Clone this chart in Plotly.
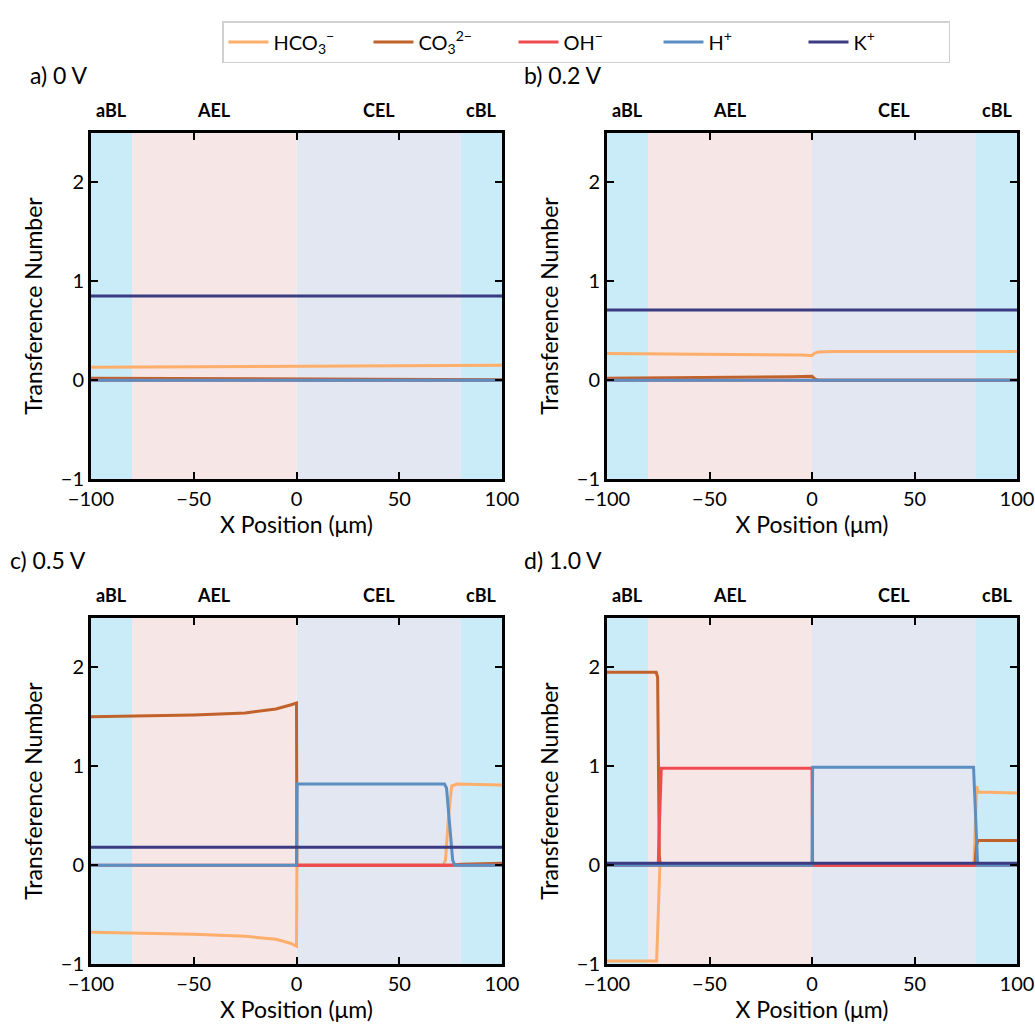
import plotly.graph_objects as go

# ---------------- data ----------------
species = ["HCO<sub>3</sub><sup>−</sup>", "CO<sub>3</sub><sup>2−</sup>", "OH<sup>−</sup>", "H<sup>+</sup>", "K<sup>+</sup>"]
colors = ["#fdae6b", "#c0622a", "#ef4b50", "#5b8fc2", "#3a3b80"]

panel_titles = ["a) 0 V", "b) 0.2 V", "c) 0.5 V", "d) 1.0 V"]
region_names = ["aBL", "AEL", "CEL", "cBL"]
region_centers = [-90, -40, 40, 90]
region_edges = [-100, -80, 0, 80, 100]
region_colors = ["#c9ecf8", "#f6e6e6", "#e3e7f2", "#c9ecf8"]

x_ticks = [-100, -50, 0, 50, 100]
y_ticks = [-1, 0, 1, 2]

# Panel a (0 V)
a_x = [-100, -50, 0, 50, 100]
a_hco3 = [0.13, 0.135, 0.14, 0.145, 0.15]
a_co3 = [0.02, 0.015, 0.01, 0.007, 0.005]
a_oh = [0.0, 0.0, 0.0, 0.0, 0.0]
a_h = [0.0, 0.0, 0.0, 0.0, 0.0]
a_k = [0.85, 0.85, 0.85, 0.85, 0.85]

# Panel b (0.2 V)
b_hco3_x = [-100, -50, -20, -5, -1, 0, 1, 3, 10, 100]
b_hco3 = [0.27, 0.265, 0.26, 0.255, 0.25, 0.25, 0.27, 0.285, 0.29, 0.29]
b_co3_x = [-100, -50, -10, 0, 1.5, 3, 100]
b_co3 = [0.02, 0.025, 0.035, 0.04, 0.01, 0.0, 0.0]
b_x = [-100, 100]
b_oh = [0.0, 0.0]
b_h = [0.0, 0.0]
b_k = [0.71, 0.71]

# Panel c (0.5 V)
c_hco3_x = [-100, -75, -50, -25, -10, -3, 0, 0.2, 71.5, 72.5, 74, 75.5, 78, 100]
c_hco3 = [-0.68, -0.69, -0.70, -0.72, -0.75, -0.79, -0.82, 0.0, 0.0, 0.05, 0.5, 0.8, 0.82, 0.81]
c_co3_x = [-100, -75, -50, -25, -10, -3, 0, 0.2, 75, 80, 100]
c_co3 = [1.50, 1.51, 1.52, 1.54, 1.58, 1.62, 1.64, 0.0, 0.0, 0.01, 0.02]
c_oh_x = [-100, 100]
c_oh = [0.0, 0.0]
c_h_x = [-100, 0, 0.3, 72, 73, 74.5, 76, 77, 100]
c_h = [0.0, 0.0, 0.82, 0.82, 0.78, 0.4, 0.05, 0.0, 0.0]
c_k_x = [-100, 100]
c_k = [0.18, 0.18]

# Panel d (1.0 V)
d_hco3_x = [-100, -75.8, -75, -74.2, 79, 79.5, 80.3, 81, 100]
d_hco3 = [-0.97, -0.97, -0.5, 0.0, 0.0, 0.4, 0.8, 0.74, 0.73]
d_co3_x = [-100, -76, -75.3, -74.5, -74, 79.5, 80.2, 81, 100]
d_co3 = [1.95, 1.95, 1.9, 0.1, 0.0, 0.0, 0.2, 0.25, 0.25]
d_oh_x = [-100, -75, -74.3, -73.5, 0, 0.3, 100]
d_oh = [0.0, 0.0, 0.5, 0.98, 0.98, 0.0, 0.0]
d_h_x = [-100, 0, 0.3, 78.8, 79.8, 80.8, 100]
d_h = [0.0, 0.0, 0.99, 0.99, 0.5, 0.0, 0.0]
d_k_x = [-100, 100]
d_k = [0.02, 0.02]

panels = [
    [(a_x, a_hco3), (a_x, a_co3), (a_x, a_oh), (a_x, a_h), (a_x, a_k)],
    [(b_hco3_x, b_hco3), (b_co3_x, b_co3), (b_x, b_oh), (b_x, b_h), (b_x, b_k)],
    [(c_hco3_x, c_hco3), (c_co3_x, c_co3), (c_oh_x, c_oh), (c_h_x, c_h), (c_k_x, c_k)],
    [(d_hco3_x, d_hco3), (d_co3_x, d_co3), (d_oh_x, d_oh), (d_h_x, d_h), (d_k_x, d_k)],
]

# ---------------- layout geometry ----------------
W, H = 1035, 1025
col_px = [(91, 502), (607, 1017)]
row_px = [(133, 479), (618, 964)]

FONT = "Lato"
fig = go.Figure()

layout = dict(
    width=W, height=H, margin=dict(l=0, r=0, t=0, b=0, autoexpand=False),
    paper_bgcolor="white", plot_bgcolor="white",
    font=dict(family=FONT, color="black", size=19),
    showlegend=True,
    legend=dict(orientation="h", x=222 / W, xanchor="left", y=1 - 21 / H, yanchor="top",
                bordercolor="#d0d0d0", borderwidth=1.5, bgcolor="white",
                font=dict(size=20, family=FONT), itemwidth=40,
                entrywidth=90, entrywidthmode="pixels",
                traceorder="normal"),
)

shapes = []
annotations = []
for p in range(4):
    r, c = divmod(p, 2)
    ax = "" if p == 0 else str(p + 1)
    x0, x1 = col_px[c]
    y0, y1 = row_px[r]
    xdom = [x0 / W, x1 / W]
    ydom = [1 - y1 / H, 1 - y0 / H]
    common = dict(showline=True, linecolor="black", linewidth=3, mirror="ticks",
                  ticks="inside", ticklen=7, tickwidth=2, tickcolor="black",
                  showgrid=False, zeroline=False, automargin=False,
                  tickfont=dict(size=20, family=FONT))
    layout["xaxis" + ax] = dict(domain=xdom, range=[-100, 100], tickvals=x_ticks,
                                anchor="y" + ax,
                                title=dict(text="X Position (μm)", font=dict(size=23, family=FONT), standoff=6),
                                **common)
    layout["yaxis" + ax] = dict(domain=ydom, range=[-1, 2.5], tickvals=y_ticks,
                                anchor="x" + ax,
                                title=dict(text="Transference Number", font=dict(size=23, family=FONT), standoff=12),
                                **common)
    # shaded regions
    for k in range(4):
        shapes.append(dict(type="rect", xref="x" + ax, yref="y" + ax + " domain",
                           x0=region_edges[k], x1=region_edges[k + 1], y0=0, y1=1,
                           fillcolor=region_colors[k], line=dict(width=0), layer="below"))
    # region labels
    for name, cx in zip(region_names, region_centers):
        annotations.append(dict(text="<b>" + name + "</b>", xref="x" + ax, yref="y" + ax + " domain",
                                x=cx, y=1, yanchor="bottom", yshift=10, showarrow=False,
                                font=dict(size=18, family=FONT)))
    # panel title
    tx = 28 if c == 0 else 522
    if p == 2:
        tx = 8
    ty = 75 if r == 0 else 560
    annotations.append(dict(text=panel_titles[p], xref="paper", yref="paper",
                            x=tx / W, y=1 - ty / H, xanchor="left", yanchor="middle",
                            showarrow=False, font=dict(size=23, family=FONT)))
    # traces
    for s in range(5):
        xs, ys = panels[p][s]
        fig.add_trace(go.Scatter(x=xs, y=ys, mode="lines", name=species[s],
                                 line=dict(color=colors[s], width=3),
                                 xaxis="x" + ax, yaxis="y" + ax,
                                 showlegend=(p == 0), legendgroup=species[s]))

layout["shapes"] = shapes
layout["annotations"] = annotations
fig.update_layout(**layout)

fig.write_html("out.html")
